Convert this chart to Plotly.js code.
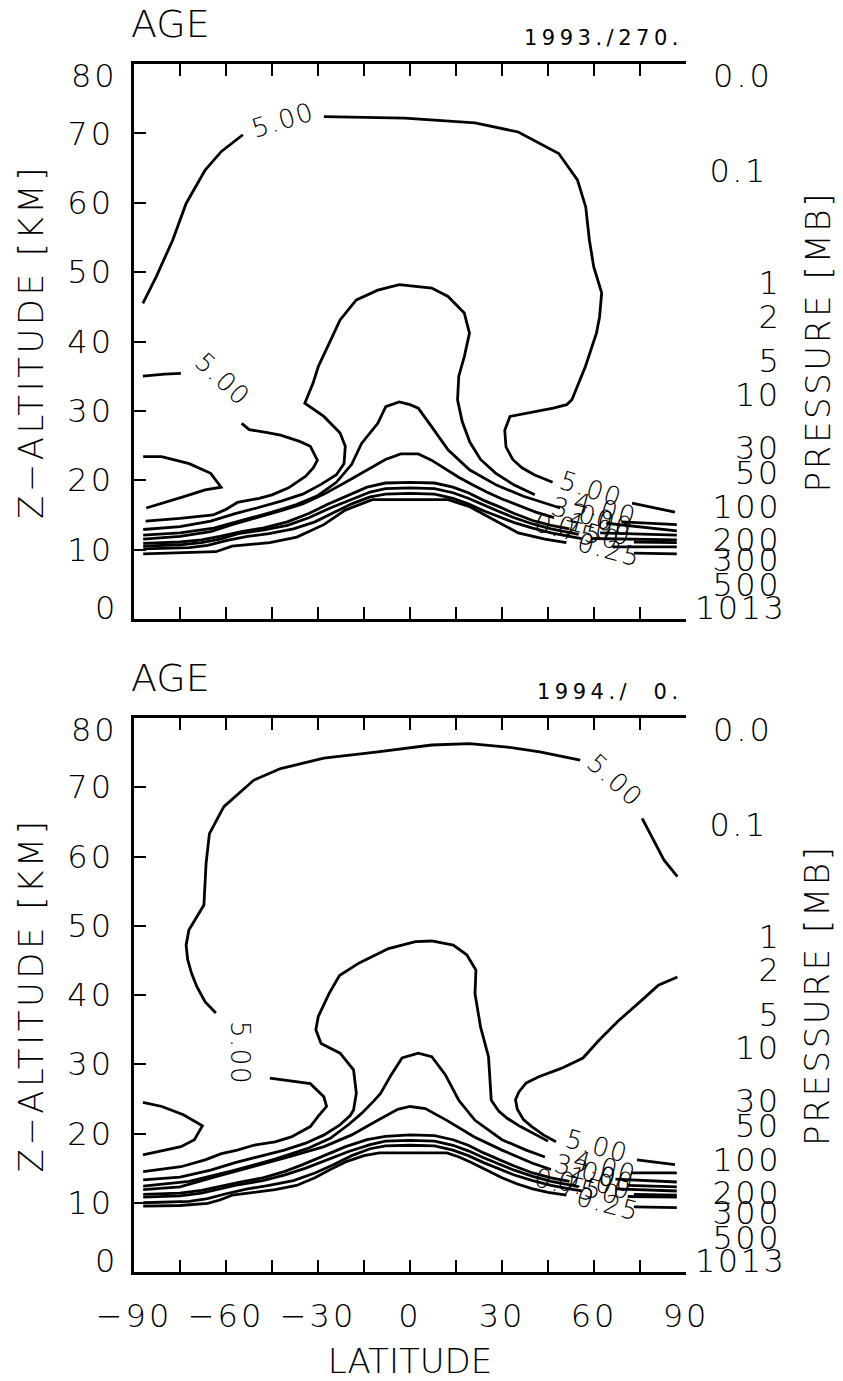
<!DOCTYPE html>
<html><head><meta charset="utf-8">
<script src="https://cdn.plot.ly/plotly-3.0.1.min.js"></script>
<style>
html,body{margin:0;padding:0;background:#fff}
#chart{width:843px;height:1381px}
.xtick text,.ytick text,.y3tick text{letter-spacing:3px}
text.ytitle,text.y3title{letter-spacing:3.5px}
</style>
</head><body><div id="chart"></div>
<script>
// ---------------- DATA (latitude, altitude km) ----------------
const latTicks = [-90,-75,-60,-45,-30,-15,0,15,30,45,60,75,90];
const latTickText = ['\u221290','','\u221260','','\u221230','','0','','30','','60','','90'];
const altTicks = [0,10,20,30,40,50,60,70,80];
const altTickText = ['0','10','20','30','40','50','60','70','80'];
const pressureTicks = [0.1,1,2,5,10,30,50,100,200,300,500];
const pressureTickText = ['0.1','1','2','5','10','30','50','100','200','300','500'];
const pressureTopText = '0.0';
const surfacePressure = 1013;
const scaleHeightKm = 7;

// Panel 1: 1993./270.
const top500a = [[-87.1,45.5],[-82.7,49.4],[-77.4,54.6],[-73,59.9],[-66.8,64.7],[-61.5,67.4],[-54.5,69.8],null,[-28.1,72.4],[-1.7,72.2],[21.2,71.5],[35.3,70.2],[48.5,67.1],[54.6,63.3],[57.3,59.4],[58.5,54.6],[59.9,50.8],[62.5,47],[61.8,43.5],[60.8,41.2],[57.2,36.4],[52.8,31.6],[51.1,30.9],[46.7,30.4],[32.6,29.2],[30.9,27.2],[31.3,24.8],[33.5,23],[36.5,21.8],[40.5,20.8],[46.5,19.7],null,[72.4,16.7],[86.4,15.4]];
const top500b = [[-87.1,35.0],[-80,35.3],[-74.7,35.4],null,[-54.9,28.2],[-52.4,27.3],[-47,26.9],[-42.2,26.5],[-36,25.6],[-32.5,24.9],[-30.2,22.9],[-31.5,21.8],[-34,20.6],[-39.6,18.9],[-45,17.9],[-49.2,17.4],[-56.3,16.8],[-60,15.8],[-64.2,15],[-75,14.5],[-86.2,14.1]];
const top500c = [[-87,23.4],[-81,23.4],[-72,22.4],[-65,21],[-61.6,19],[-66.8,18.6],[-74,17.6],[-86,16]];
const top400 = [[-87,12.9],[-75,13.3],[-65,14.1],[-57,15.2],[-50,16.0],[-42,17.0],[-35,18.0],[-29,19.4],[-24,20.8],[-21.5,22.4],[-21.1,24.9],[-22.8,26.8],[-28.1,29.2],[-34.3,31.1],[-31.6,34],[-29.9,36.4],[-26.4,39.7],[-22.8,43.1],[-17.5,46],[-10.5,47.4],[-3.5,48.2],[7.1,47.7],[12.4,46.5],[17.7,44.1],[19.4,41.2],[17.7,37.8],[15.9,35],[15.5,31.6],[17,28.5],[19.5,25.5],[23,23],[28,21],[34,19.3],[40.7,17.9],null,[69,14.0],[87,13.6]];
const top300 = [[-87,12.1],[-75,12.4],[-64,13.1],[-55,14.2],[-45,15.4],[-37,16.5],[-30,17.8],[-24,19.7],[-19,22.3],[-15.8,25.3],[-10.5,28.2],[-7.9,30.6],[-3.5,31.3],[0,30.9],[2.7,30.4],[7.1,27.7],[12.4,24.4],[19.4,21.5],[28.2,19.3],[37,17.7],[44,16.7],[49,16.0],null,[64,13.8],[87,12.7]];
const top200 = [[-87,11.5],[-75,11.9],[-65,12.6],[-58,13.6],[-50,14.6],[-42,15.6],[-35,16.6],[-28,18.0],[-21,19.7],[-14,21.5],[-8,23.0],[-3,23.8],[2.7,23.8],[7,22.9],[12,21.5],[16,20.4],[21,19.2],[25,18.3],[30,17.3],[35,16.4],[41,15.4],[47,14.6],null,[62,12.4],[87,12.1]];
const top100 = [[-87,10.9],[-75,11.1],[-68,11.4],[-62,11.9],[-55,12.6],[-48,13.1],[-40,14],[-33,15.2],[-27,16.5],[-20,17.9],[-14,19.0],[-8,19.6],[0,19.7],[8,19.6],[14,19.0],[19,18.2],[24,17.1],[29,16.2],[34,15.2],[40,14.2],[46,13.5],[52,13.0],null,[59,11.6],[87,11.4]];
const top075 = [[-87,10.5],[-75,10.7],[-68,11.0],[-62,11.5],[-56,12.3],[-48,12.8],[-40,13.5],[-33,14.6],[-26,16.0],[-19,17.3],[-13,18.3],[-8,18.8],[0,18.9],[8,18.8],[14,18.2],[19,17.4],[24,16.4],[29,15.5],[34,14.6],[40,13.7],[46,13.0],[52,12.5],[55,12.2],null,[73,11.1],[87,11.0]];
const top050 = [[-87,10.1],[-72,10.3],[-66,10.6],[-60,11.3],[-53,11.9],[-46,12.3],[-38,13.0],[-31,14.0],[-25,15.3],[-19,16.6],[-13,17.6],[-8,18.0],[0,18.1],[8,18.0],[14,17.4],[19,16.6],[24,15.6],[29,14.8],[34,13.9],[40,13.1],[46,12.4],[52,11.9],[56,11.6],null,[66,10.4],[87,10.4]];
const top025 = [[-87,9.4],[-75,9.5],[-63.3,9.7],[-58,10.5],[-45.7,11],[-36.9,11.8],[-28.1,13.6],[-21.1,15.7],[-12.3,17.2],[12.4,17.2],[19.4,16.2],[28.2,14.1],[35.3,12.4],[44,11.5],[51,11],null,[73,9.5],[87,9.4]];

const topLabelText  = ['5.00','5.00','5.00','4.00','3.00','2.00','1.00','0.75','0.50','0.25'];
const topLabelLat   = [-41.4,-61.1,59.0,63.5,56.5,62.5,62.0,51.0,58.5,65.0];
const topLabelAlt   = [71.9,34.6,18.7,15.8,15.1,14.3,13.0,12.8,12.4,9.9];
const topLabelAngle = [-17,43,18,15,15,15,15,15,15,15];

// Panel 2: 1994./ 0.
const bot500a = [[-63.3,37.4],[-66.8,39.0],[-69.5,41.2],[-71.2,43.1],[-72.5,45.1],[-73,47.2],[-72.1,49.4],[-69.5,51.3],[-67.2,53],[-66.5,59],[-65.4,63.3],[-60.7,67.2],[-51,71],[-42.2,72.7],[-28.1,74.2],[-10.5,75.1],[7.1,76.1],[19.4,76.3],[31.7,75.8],[42.3,75.1],[55.5,73.9],null,[75.7,65.5],[80.1,61.9],[82.8,59.5],[87.2,57.1]];
const bot500b = [[-45.7,28],[-32.5,27.2],[-28.1,25.3],[-27.2,23.9],[-29.9,22.5],[-32.5,21],[-38.7,19.5],[-44,18.8],[-51,18.3],[-56.3,17.6],[-61.5,17.1],[-66.8,16.2],[-74.7,15.2],[-87,14.5]];
const bot500c = [[-87.1,24.5],[-80.9,23.9],[-73.9,22.7],[-67.7,21.1],[-70.3,19.1],[-74.7,18.1],[-87.1,16.9]];
const bot500d = [[87.2,42.6],[81,41.4],[75.7,39.3],[67.8,36.2],[61.7,33.5],[56.4,30.9],[49.3,29.4],[42,28.2],[37.9,27.3],[35.5,26],[34.4,24.9],[35,23.5],[37,22],[39.7,21],[43.5,19.8],[47.6,18.8],null,[74,16.2],[86.4,15.5]];
const bot400 = [[-87,13.3],[-75,13.7],[-65,14.7],[-57,15.8],[-49,16.7],[-41,17.6],[-34,18.6],[-28,19.8],[-23,21.2],[-19.5,22.6],[-18.4,23.4],[-17.5,25.8],[-18.4,29.2],[-22.8,31.6],[-29,33],[-30.7,35],[-29.9,36.9],[-26.4,40.2],[-23,42.8],[-16.7,44.6],[-7,46.7],[1.8,47.7],[7.1,47.8],[14.1,47.2],[18.5,45.8],[21.5,43.6],[21.2,40.2],[23,35.4],[25.6,31.1],[26,28],[26.5,24.8],[29,23.2],[31.7,22.2],[36,21],[40.5,20],[45,18.9],null,[72,14.3],[87,14.3]];
const bot300 = [[-87,12.4],[-72,13.1],[-58,14.6],[-44,16.3],[-33,17.9],[-26,19.3],[-20,21.3],[-15.8,22.9],[-12,24.6],[-9.6,25.8],[-6.1,28.5],[-2.6,30.9],[2.7,31.6],[7.1,31.1],[11.5,28.5],[15.9,24.8],[21.2,21.9],[30,19.1],[37.9,17.6],[44,16.6],null,[67,13.4],[87,13.0]];
const bot200 = [[-87,11.9],[-75,12.3],[-63,13.8],[-51,15.2],[-39,16.7],[-28,18.1],[-19,19.8],[-10.5,21.9],[-4,23.5],[0,23.9],[5,23.6],[12,21.9],[21,19.5],[30,17.6],[40,15.7],[46,14.8],null,[71,12.5],[87,12.3]];
const bot100 = [[-87,11.2],[-75,11.4],[-68,11.8],[-62,12.4],[-55,13.0],[-48,13.6],[-41,14.5],[-35,15.5],[-28,16.8],[-21,18.1],[-14,19.1],[-8,19.6],[0,19.8],[8,19.7],[14,19.1],[19,18.3],[24,17.2],[29,16.2],[34,15.3],[40,14.3],[46,13.6],[52,13.1],null,[67,12.0],[87,11.7]];
const bot075 = [[-87,10.8],[-75,11.0],[-68,11.4],[-62,12.0],[-56,12.6],[-48,13.2],[-41,14.0],[-34,15.0],[-27,16.2],[-20,17.4],[-13,18.4],[-8,18.9],[0,19.0],[8,18.9],[14,18.3],[19,17.5],[24,16.5],[29,15.6],[34,14.7],[40,13.8],[46,13.1],[52,12.6],[55,12.3],null,[73,11.2],[87,11.1]];
const bot050 = [[-87,10.0],[-72,10.2],[-66,10.6],[-60,11.3],[-53,12.0],[-46,12.5],[-38,13.2],[-31,14.3],[-25,15.5],[-19,16.8],[-13,17.8],[-8,18.2],[0,18.3],[8,18.2],[14,17.6],[19,16.8],[24,15.8],[29,14.9],[34,14.0],[40,13.2],[46,12.5],[52,12.0],[56,11.7],null,[71,10.9],[87,10.8]];
const bot025 = [[-87,9.5],[-75,9.6],[-66,9.9],[-62,10.4],[-58,11.1],[-50,11.5],[-44,11.9],[-37,12.5],[-31,13.6],[-26,14.8],[-21,15.9],[-15,16.8],[-10,17.2],[12,17.2],[16,16.6],[20,15.8],[25,14.7],[30,13.6],[35,12.7],[40,12.0],[45,11.5],[51,11.1],null,[73,9.4],[87,9.3]];

const botLabelText  = ['5.00','5.00','5.00','4.00','3.00','2.00','1.00','0.75','0.50','0.25'];
const botLabelLat   = [66.8,-55.4,61.0,63.5,57.5,63.0,62.0,51.0,58.5,64.5];
const botLabelAlt   = [71.0,31.6,18.2,15.2,14.6,13.9,12.8,12.6,12.2,9.8];
const botLabelAngle = [42,90,15,15,15,15,15,15,15,15];

const panelTitle = 'AGE';
const topDateText = '1993./270.';
const botDateText = '1994./\u00a0\u00a00.';

// ---------------- LAYOUT CONSTANTS ----------------
const W = 843, H = 1381;
const X_DOM = [134/W, 686/W];
const TOP_DOM = [1-619/H, 1-64/H];
const BOT_DOM = [1-1272/H, 1-718/H];
const FONT = 'DejaVu Sans';
const LINE = {color:'#000', width:2.8};

function contourTrace(pts, xa, ya){
  return {type:'scatter', mode:'lines', xaxis:xa, yaxis:ya, hoverinfo:'skip',
    x: pts.map(p => p ? p[0] : null), y: pts.map(p => p ? p[1] : null),
    connectgaps:false, line:LINE, showlegend:false};
}
const topSet = [top500a, top500b, top500c, top400, top300, top200, top100, top075, top050, top025];
const botSet = [bot500a, bot500b, bot500c, bot500d, bot400, bot300, bot200, bot100, bot075, bot050, bot025];
const traces = [];
topSet.forEach(c => traces.push(contourTrace(c, 'x2', 'y3')));
botSet.forEach(c => traces.push(contourTrace(c, 'x', 'y')));

const pressureAlt = pressureTicks.map(p => scaleHeightKm*Math.log(surfacePressure/p));

const base = {showline:true, linecolor:'#000', linewidth:2.6, ticks:'inside', ticklen:12,
  tickwidth:2, tickcolor:'#000', showgrid:false, zeroline:false, fixedrange:true};

function xAxis(anchor, labels){
  return Object.assign({}, base, {domain:X_DOM, anchor:anchor, range:[-90,90], tickmode:'array',
    tickvals:latTicks, ticktext:latTickText, mirror:'ticks', showticklabels:labels,
    ticklabelstandoff:14, tickfont:{size:32}});
}
function yAxis(anchor, dom){
  return Object.assign({}, base, {domain:dom, anchor:anchor, range:[0,80], tickmode:'array',
    tickvals:altTicks.slice(1,-1), ticktext:altTickText.slice(1,-1), ticklabelstandoff:11, tickfont:{size:32},
    title:{text:'Z\u2212ALTITUDE [KM]', font:{size:34}, standoff:14}});
}
function pAxis(over, anchor){
  return Object.assign({}, base, {overlaying:over, side:'right', anchor:anchor, range:[0,80],
    tickmode:'array', tickvals:pressureAlt, showticklabels:false});
}

const ann = [];
const annSpacing = [];
function addAnn(a, ls){
  a.showarrow = false;
  a.font = Object.assign({family:FONT, color:'#000', weight:200}, a.font||{});
  ann.push(a); annSpacing.push(ls||0);
}
[[TOP_DOM,'y3','x2',topLabelText,topLabelLat,topLabelAlt,topLabelAngle,topDateText],
 [BOT_DOM,'y','x',botLabelText,botLabelLat,botLabelAlt,botLabelAngle,botDateText]].forEach(P => {
  const [dom, ya, xa, lt, llat, lalt, lang, dt] = P;
  const topPix = (1-dom[1])*H;
  addAnn({text:panelTitle, xref:'paper', yref:'paper', x:129/W, y:1-(topPix-40)/H, xanchor:'left', yanchor:'middle', font:{size:38}}, 0);
  addAnn({text:dt, xref:'paper', yref:'paper', x:685/W, y:1-(topPix-26)/H, xanchor:'right', align:'right', yanchor:'middle', font:{size:21, weight:400}}, 4.5);
  addAnn({text:'PRESSURE [MB]', xref:'paper', yref:'paper', x:817/W, y:(dom[0]+dom[1])/2, xanchor:'center', yanchor:'middle', textangle:-90, font:{size:34}}, 2.6);
  // end labels of the altitude axis
  addAnn({text:altTickText[altTickText.length-1], xref:'paper', yref:ya, x:120/W, y:altTicks[altTicks.length-1], xanchor:'right', align:'right', yanchor:'middle', yshift:-12, font:{size:32}}, 3);
  addAnn({text:altTickText[0], xref:'paper', yref:ya, x:120/W, y:altTicks[0], xanchor:'right', align:'right', yanchor:'middle', yshift:11, font:{size:32}}, 3);
  // pressure labels
  addAnn({text:pressureTopText, xref:'paper', yref:ya, x:775/W, y:80, xanchor:'right', align:'right', yanchor:'middle', yshift:-12, font:{size:32}}, 3);
  pressureTickText.forEach((t,i) => addAnn({text:t, xref:'paper', yref:ya, x:(i === 0 ? 770 : 783)/W, y:pressureAlt[i], xanchor:'right', align:'right', yanchor:'middle', font:{size:32}}, 2.5));
  addAnn({text:String(surfacePressure), xref:'paper', yref:ya, x:788/W, y:0, xanchor:'right', align:'right', yanchor:'middle', yshift:11, font:{size:32}}, 2.5);
  // contour labels
  lt.forEach((t,i) => addAnn({text:t, xref:xa, yref:ya, x:llat[i], y:lalt[i], textangle:lang[i], xanchor:'center', yanchor:'middle', font:{size:26}}, 1.5));
});

const layout = {
  width:W, height:H, margin:{l:0,r:0,t:0,b:0}, paper_bgcolor:'#fff', plot_bgcolor:'#fff', showlegend:false,
  font:{family:FONT, size:32, color:'#000', weight:200},
  xaxis: Object.assign(xAxis('y', true), {title:{text:'LATITUDE', font:{size:34}, standoff:24}}),
  yaxis: yAxis('x', BOT_DOM),
  yaxis2: pAxis('y','x'),
  xaxis2: xAxis('y3', false),
  yaxis3: yAxis('x2', TOP_DOM),
  yaxis4: pAxis('y3','x2'),
  annotations: ann
};
function applySpacing(gd){
  gd.querySelectorAll('g.annotation').forEach(g => {
    const i = +g.getAttribute('data-index');
    const t = g.querySelector('text.annotation-text');
    if (t && annSpacing[i]) t.style.letterSpacing = annSpacing[i] + 'px';
  });
}
Plotly.newPlot('chart', traces, layout, {staticPlot:true, displayModeBar:false}).then(applySpacing);
</script></body></html>
